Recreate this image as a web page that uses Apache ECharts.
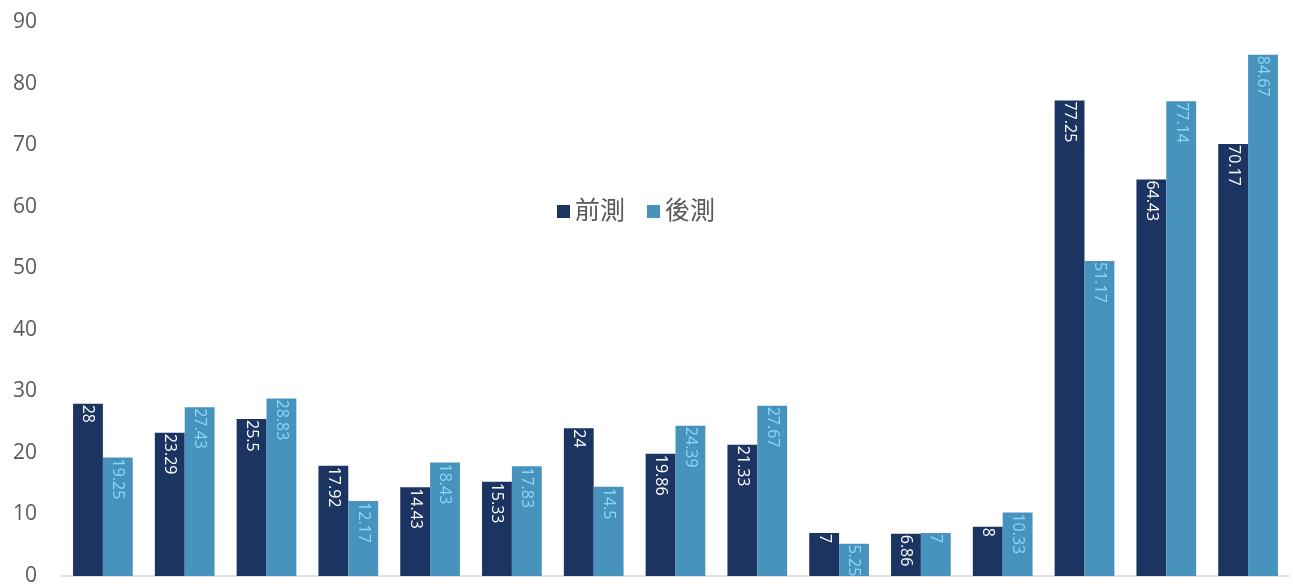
<!DOCTYPE html>
<html>
<head>
<meta charset="utf-8">
<script src="https://cdn.jsdelivr.net/npm/echarts@6/dist/echarts.min.js"></script>
<style>
  html, body { margin: 0; padding: 0; background: #fff; }
  #chart { width: 1293px; height: 588px; }
</style>
</head>
<body>
<div id="chart"></div>
<script>
// Item groups along the x axis (labels are not shown on the axis)
const categories = ['1', '2', '3', '4', '5', '6', '7', '8', '9', '10', '11', '12', '13', '14', '15'];
const seriesNames = ['前測', '後測'];
const preValues = [28, 23.29, 25.5, 17.92, 14.43, 15.33, 24, 19.86, 21.33, 7, 6.86, 8, 77.25, 64.43, 70.17];
const postValues = [19.25, 27.43, 28.83, 12.17, 18.43, 17.83, 14.5, 24.39, 27.67, 5.25, 7, 10.33, 51.17, 77.14, 84.67];

const FONT = '"Open Sans", "Noto Sans CJK TC", sans-serif';

function barLabel(color) {
  return {
    show: true,
    position: 'insideTop',
    distance: 1,
    rotate: -90,
    align: 'left',
    verticalAlign: 'middle',
    color: color,
    fontFamily: FONT,
    fontSize: 16
  };
}

const chart = echarts.init(document.getElementById('chart'));
chart.setOption({
  animation: false,
  color: ['#1c3461', '#4893bd'],
  legend: {
    data: seriesNames,
    left: 552,
    top: 194,
    itemWidth: 13,
    itemHeight: 13,
    itemGap: 22,
    icon: 'rect',
    textStyle: { color: '#595959', fontSize: 25, fontFamily: FONT }
  },
  grid: { left: 62, right: 4, top: 22, bottom: 12 },
  xAxis: {
    type: 'category',
    data: categories,
    axisLine: { lineStyle: { color: '#d9d9d9', width: 1.5 } },
    axisTick: { show: false },
    axisLabel: { show: false }
  },
  yAxis: {
    type: 'value',
    min: 0,
    max: 90,
    interval: 10,
    splitLine: { show: false },
    axisLine: { show: false },
    axisTick: { show: false },
    axisLabel: { color: '#595959', fontSize: 21, fontFamily: FONT, margin: 25 }
  },
  series: [
    {
      name: seriesNames[0],
      type: 'bar',
      data: preValues,
      barGap: '0%',
      barCategoryGap: '27%',
      label: barLabel('#ffffff')
    },
    {
      name: seriesNames[1],
      type: 'bar',
      data: postValues,
      label: barLabel('#8ad8f5')
    }
  ]
});
</script>
</body>
</html>
